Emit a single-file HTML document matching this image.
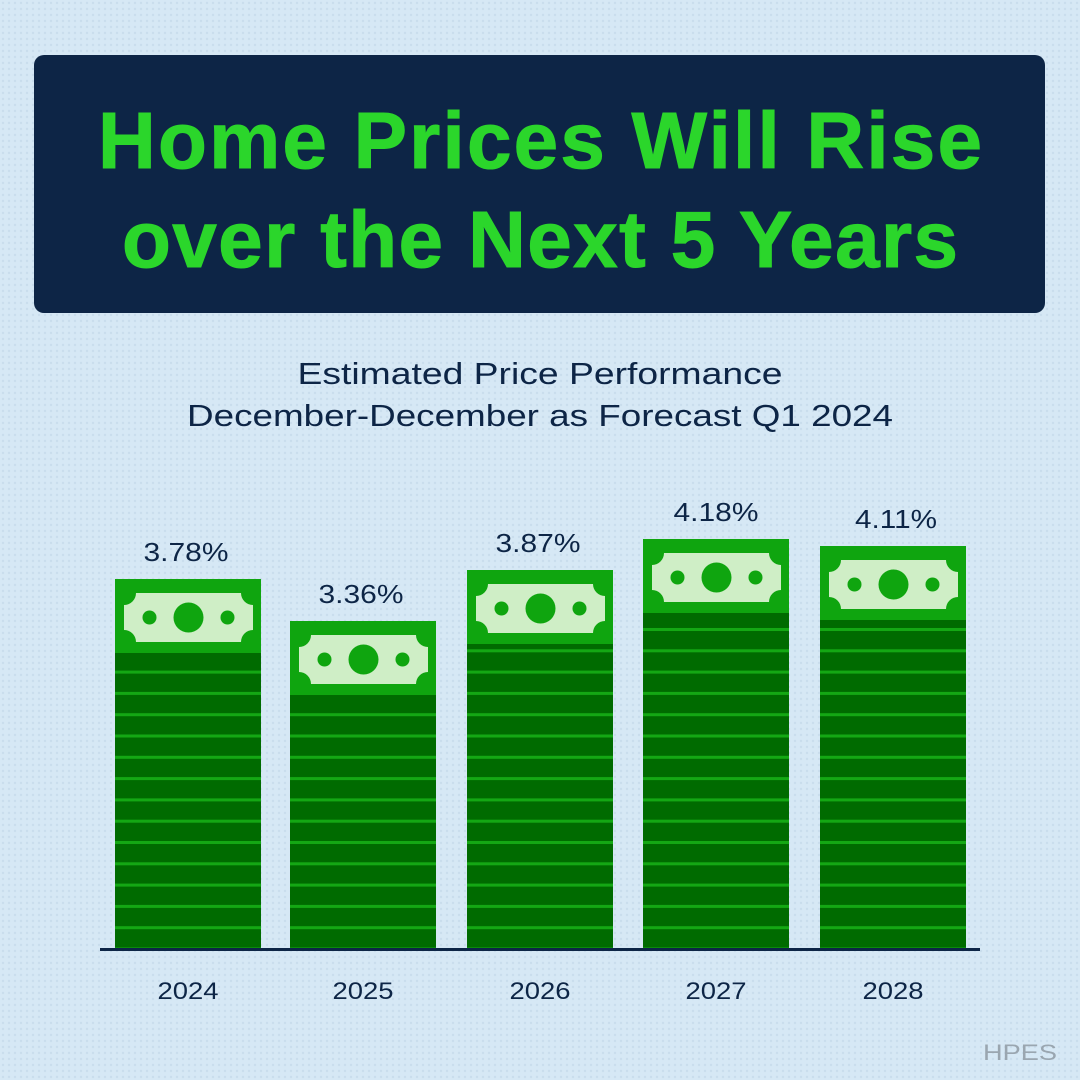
<!DOCTYPE html>
<html><head><meta charset="utf-8"><style>
html,body{margin:0;padding:0;width:1080px;height:1080px;overflow:hidden;background:#d5e7f4}
</style></head><body>
<svg width="1080" height="1080" viewBox="0 0 1080 1080" xmlns="http://www.w3.org/2000/svg">
<defs>
<pattern id="dots" width="6" height="6" patternUnits="userSpaceOnUse">
<rect width="6" height="6" fill="#d6e8f5"/><circle cx="3" cy="3" r="1.2" fill="#c9dded"/>
</pattern>
<pattern id="stripes" width="10" height="21.3" patternUnits="userSpaceOnUse" y="949">
<rect width="10" height="21.3" fill="#006b00"/><rect y="-1.5" width="10" height="3" fill="#14a814"/><rect y="19.8" width="10" height="3" fill="#14a814"/>
</pattern>
<g id="bill">
<path d="M12,0 H117 A12,12 0 0 0 129,12 V37 A12,12 0 0 0 117,49 H12 A12,12 0 0 0 0,37 V12 A12,12 0 0 0 12,0 Z" fill="#cfeec6"/>
<circle cx="64.5" cy="24.5" r="15" fill="#0fa50f"/>
<circle cx="25.5" cy="24.5" r="7" fill="#0fa50f"/>
<circle cx="103.5" cy="24.5" r="7" fill="#0fa50f"/>
</g>
</defs>
<rect width="1080" height="1080" fill="url(#dots)"/>
<rect x="34" y="55" width="1011" height="258" rx="10" fill="#0d2546"/>
<g font-family="Liberation Sans, sans-serif" font-weight="bold" font-size="80" fill="#2bd62b" text-anchor="middle" stroke="#2bd62b" stroke-width="1">
<text x="540" y="168" textLength="884" lengthAdjust="spacing">Home Prices Will Rise</text>
<text x="540" y="267" textLength="836" lengthAdjust="spacing">over the Next 5 Years</text>
</g>
<g font-family="Liberation Sans, sans-serif" font-size="31" fill="#0d2546" text-anchor="middle">
<text x="540" y="384" textLength="485" lengthAdjust="spacingAndGlyphs">Estimated Price Performance</text>
<text x="540" y="426" textLength="706" lengthAdjust="spacingAndGlyphs">December-December as Forecast Q1 2024</text>
</g>
<g>
<rect x="115" y="579" width="146" height="371" fill="url(#stripes)"/><rect x="115" y="579" width="146" height="74" fill="#0fa50f"/><use href="#bill" x="124" y="593"/>
<rect x="290" y="621" width="146" height="329" fill="url(#stripes)"/><rect x="290" y="621" width="146" height="74" fill="#0fa50f"/><use href="#bill" x="299" y="635"/>
<rect x="467" y="570" width="146" height="380" fill="url(#stripes)"/><rect x="467" y="570" width="146" height="74" fill="#0fa50f"/><use href="#bill" x="476" y="584"/>
<rect x="643" y="539" width="146" height="411" fill="url(#stripes)"/><rect x="643" y="539" width="146" height="74" fill="#0fa50f"/><use href="#bill" x="652" y="553"/>
<rect x="820" y="546" width="146" height="404" fill="url(#stripes)"/><rect x="820" y="546" width="146" height="74" fill="#0fa50f"/><use href="#bill" x="829" y="560"/>
</g>
<rect x="100" y="948" width="880" height="3" fill="#0d2546"/>
<g font-family="Liberation Sans, sans-serif" font-size="26" fill="#0d2546" text-anchor="middle">
<text x="186" y="561" textLength="85" lengthAdjust="spacingAndGlyphs">3.78%</text>
<text x="361" y="603" textLength="85" lengthAdjust="spacingAndGlyphs">3.36%</text>
<text x="538" y="552" textLength="85" lengthAdjust="spacingAndGlyphs">3.87%</text>
<text x="716" y="521" textLength="85" lengthAdjust="spacingAndGlyphs">4.18%</text>
<text x="896" y="528" textLength="82" lengthAdjust="spacingAndGlyphs">4.11%</text>
</g>
<g font-family="Liberation Sans, sans-serif" font-size="24" fill="#0d2546" text-anchor="middle">
<text x="188" y="999" textLength="61" lengthAdjust="spacingAndGlyphs">2024</text><text x="363" y="999" textLength="61" lengthAdjust="spacingAndGlyphs">2025</text><text x="540" y="999" textLength="61" lengthAdjust="spacingAndGlyphs">2026</text><text x="716" y="999" textLength="61" lengthAdjust="spacingAndGlyphs">2027</text><text x="893" y="999" textLength="61" lengthAdjust="spacingAndGlyphs">2028</text>
</g>
<text x="1057" y="1060" font-family="Liberation Sans, sans-serif" font-size="22" fill="#9aa6b0" text-anchor="end" textLength="74" lengthAdjust="spacingAndGlyphs">HPES</text>
</svg>
</body></html>
